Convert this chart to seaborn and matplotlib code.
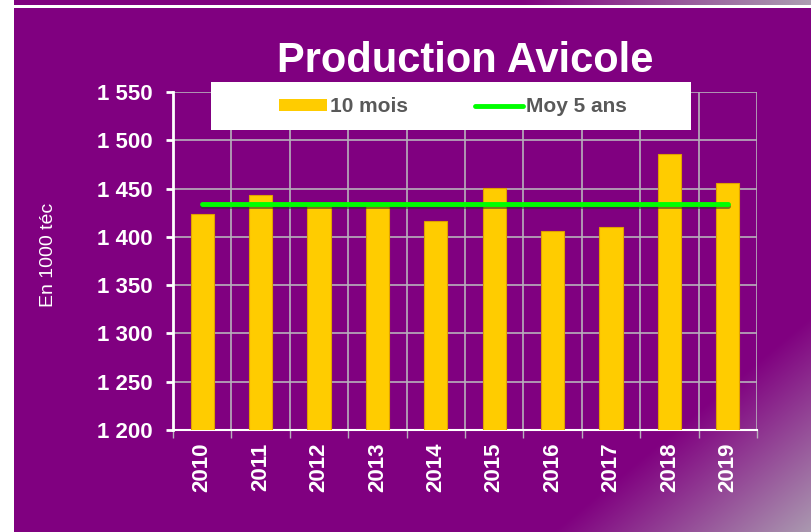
import numpy as np
import pandas as pd
import matplotlib
matplotlib.use("Agg")
import matplotlib.pyplot as plt
import matplotlib.patheffects as pe
from matplotlib.patches import Rectangle
import seaborn as sns

# Data
years = ["2010", "2011", "2012", "2013", "2014", "2015", "2016", "2017", "2018", "2019"]
prod_10_mois = [1424, 1443, 1432, 1433, 1416, 1451, 1406, 1410, 1486, 1456]
moy_5_ans = [1434] * len(years)
y_ticks = [1200, 1250, 1300, 1350, 1400, 1450, 1500, 1550]
y_tick_labels = ["1 200", "1 250", "1 300", "1 350", "1 400", "1 450", "1 500", "1 550"]

df = pd.DataFrame({"Année": years, "10 mois": prod_10_mois, "Moy 5 ans": moy_5_ans})

sns.set_theme(style="white")
plt.rcParams["font.family"] = ["Liberation Sans", "DejaVu Sans"]

W, H = 812, 532
fig = plt.figure(figsize=(W / 100, H / 100), dpi=100, facecolor="white")

# Background: purple slide with white left margin, thin top band and a light corner gradient
purple = np.array([128, 0, 128]) / 255
grey = np.array([172, 160, 178]) / 255
xx, yy = np.meshgrid(np.arange(W), np.arange(H))
bg = np.ones((H, W, 3))
t_main = np.clip((xx + 1.2 * yy - 1190) / 270, 0, 1)[..., None]
main = purple * (1 - t_main) + grey * t_main
t_top = np.clip((xx - 520) / 292, 0, 1)[..., None]
top = purple * (1 - t_top) + grey * t_top
mask_main = (xx >= 14) & (yy >= 8)
mask_top = (xx >= 14) & (yy < 5)
bg[mask_main] = main[mask_main]
bg[mask_top] = top[mask_top]
bg_ax = fig.add_axes([0, 0, 1, 1], zorder=-10)
bg_ax.imshow(bg, aspect="auto", extent=(0, W, H, 0))
bg_ax.axis("off")

ax = fig.add_axes([173 / W, 1 - 430 / H, 584 / W, 338 / H])
ax.set_facecolor("none")

sns.barplot(data=df, x="Année", y="10 mois", color="#ffcc00", saturation=1,
            width=0.4, edgecolor="#e0a000", linewidth=0.8, ax=ax, zorder=3)
sns.lineplot(x=np.arange(len(years)), y=df["Moy 5 ans"], color="#00ff00", linewidth=3.5,
             ax=ax, zorder=4,
             path_effects=[pe.SimpleLineShadow(offset=(0, -1.5), shadow_color="#303030", alpha=0.6),
                           pe.Normal()])

ax.set_xlim(-0.5, len(years) - 0.5)
ax.set_ylim(1200, 1550)
ax.set_yticks(y_ticks)
ax.set_yticklabels(y_tick_labels)
ax.set_xticks(np.arange(len(years)))
ax.set_xticklabels(years, rotation=90)
ax.set_xticks(np.arange(len(years) + 1) - 0.5, minor=True)

grid_col = "#b8b0bc"
ax.grid(axis="y", which="major", color=grid_col, linewidth=1.2, zorder=0)
ax.grid(axis="x", which="minor", color=grid_col, linewidth=1.2, zorder=0)
ax.grid(axis="x", which="major", visible=False)
ax.set_axisbelow(True)

for s in ["top", "right"]:
    ax.spines[s].set_visible(False)
ax.spines["left"].set_color("white")
ax.spines["left"].set_linewidth(2)
ax.spines["bottom"].set_color("white")
ax.spines["bottom"].set_linewidth(1.5)

ax.tick_params(axis="y", which="major", left=True, length=5, width=2, color="white",
               labelcolor="white", labelsize=16, pad=10)
ax.tick_params(axis="x", which="major", bottom=False, length=0, labelcolor="white",
               labelsize=16, pad=9)
ax.tick_params(axis="x", which="minor", bottom=True, length=6, width=1, color=grid_col)
for lab in ax.get_xticklabels() + ax.get_yticklabels():
    lab.set_fontweight("bold")

ax.set_xlabel("")
ax.set_ylabel("En 1000 téc", color="white", fontsize=14)
ax.yaxis.set_label_coords(-0.199, 0.518)

ax.text(0.5, 1.06, "Production Avicole", transform=ax.transAxes, ha="center", va="baseline",
        color="white", fontsize=30, fontweight="bold")

# White legend box over the top of the plot
fig.patches.append(Rectangle((211 / W, 1 - 130 / H), 480 / W, 48 / H, transform=fig.transFigure,
                             facecolor="white", edgecolor="none", zorder=5))
handles = [Rectangle((0, 0), 1, 1, facecolor="#ffcc00", edgecolor="none"),
           plt.Line2D([0], [0], color="#00ff00", linewidth=3.5, solid_capstyle="round")]
leg = fig.legend(handles, ["10 mois", "Moy 5 ans"], loc="center", ncol=2,
                 bbox_to_anchor=(453 / W, 1 - 107 / H), frameon=False,
                 prop={"weight": "bold", "size": 15}, labelcolor="#595959",
                 handlelength=2.3, handleheight=0.55, handletextpad=0.15, columnspacing=3.2)
leg.set_zorder(6)

fig.savefig("out.png", dpi=100, facecolor="white")
